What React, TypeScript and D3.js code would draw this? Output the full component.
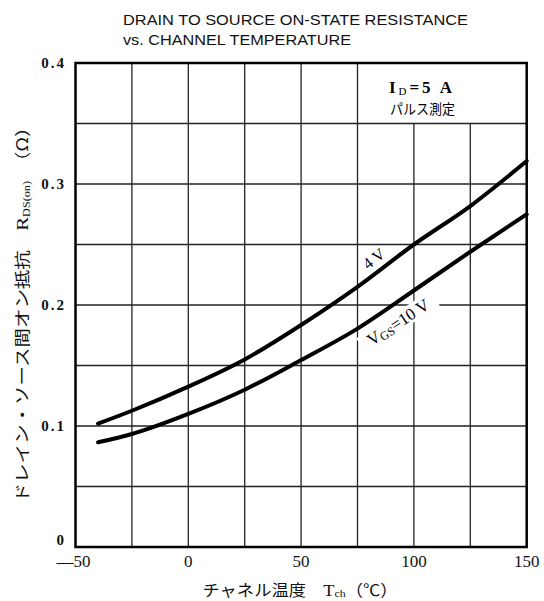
import React from "react";
import * as d3 from "d3";

const temps = [-40, -25, 0, 25, 50, 75, 100, 125, 150];
const r4V = [0.102, 0.1126, 0.1325, 0.155, 0.1835, 0.215, 0.25, 0.2818, 0.319];
const r10V = [0.0865, 0.0934, 0.110, 0.130, 0.1545, 0.1805, 0.212, 0.244, 0.275];
const xTicks = [-50, 0, 50, 100, 150];
const xGrid = [-25, 0, 25, 50, 75, 100, 125];
const yTicks = [0, 0.1, 0.2, 0.3, 0.4];
const yGrid = [0.05, 0.1, 0.15, 0.2, 0.25, 0.3, 0.35];

const W = 544, H = 601;
const L = 75.5, R = 526.7, T = 63, B = 547;

export default function App() {
  const x = d3.scaleLinear().domain([-50, 150]).range([L, R]);
  const y = d3.scaleLinear().domain([0, 0.4]).range([B, T]);
  const line = d3.line<[number, number]>()
    .x(d => x(d[0])).y(d => y(d[1]))
    .curve(d3.curveMonotoneX);
  const d4 = line(temps.map((t, i) => [t, r4V[i]]));
  const d10 = line(temps.map((t, i) => [t, r10V[i]]));
  const serif = "'Liberation Serif', 'DejaVu Serif', serif";
  const sans = "'Liberation Sans', Arial, sans-serif";
  const jp = "'Noto Sans CJK JP', sans-serif";

  const lbl4x = 374, lbl4y = 259;
  const lbl10x = 398, lbl10y = 322;

  return (
    <svg width={W} height={H} style={{ position: "absolute", left: 0, top: 0, background: "#fff" }}>
      <rect x={0} y={0} width={W} height={H} fill="#fff" />
      {/* title */}
      <text x={123} y={25} fontFamily={sans} fontSize={15} textLength={345} lengthAdjust="spacingAndGlyphs" fill="#111">DRAIN TO SOURCE ON-STATE RESISTANCE</text>
      <text x={123} y={45} fontFamily={sans} fontSize={15} textLength={228} lengthAdjust="spacingAndGlyphs" fill="#111">vs. CHANNEL TEMPERATURE</text>

      {/* grid */}
      {xGrid.map(g => (
        <line key={"vx" + g} x1={x(g)} x2={x(g)} y1={B} y2={g >= 100 ? y(0.35) : T} stroke="#222" strokeWidth={1.3} />
      ))}
      {yGrid.map(g => (
        <line key={"hy" + g} x1={L} x2={R} y1={y(g)} y2={y(g)} stroke="#222" strokeWidth={1.3} />
      ))}

      {/* label backgrounds */}
      <g transform={`translate(${lbl10x},${lbl10y}) rotate(-33)`}>
        <rect x={-44} y={-9} width={88} height={18} fill="#fff" />
      </g>

      {/* curves */}
      <path d={d4 || ""} fill="none" stroke="#000" strokeWidth={4} strokeLinecap="round" />
      <path d={d10 || ""} fill="none" stroke="#000" strokeWidth={4} strokeLinecap="round" />

      {/* frame */}
      <rect x={L} y={T} width={R - L} height={B - T} fill="none" stroke="#000" strokeWidth={2.5} />

      {/* curve labels */}
      <g transform={`translate(${lbl4x},${lbl4y}) rotate(-38)`}>
        <text x={0} y={5} textAnchor="middle" fontFamily={serif} fontSize={16} fill="#000">4 V</text>
      </g>
      <g transform={`translate(${lbl10x},${lbl10y}) rotate(-33)`}>
        <text x={0} y={6} textAnchor="middle" fontFamily={serif} fontSize={17} fill="#000">
          V<tspan fontSize={12} dy={2}>GS</tspan><tspan dy={-2}>=10 V</tspan>
        </text>
      </g>

      {/* annotation */}
      <text x={389} y={93} fontFamily={serif} fontSize={17} fontWeight="bold" fill="#000" textLength={63} lengthAdjust="spacing">
        I<tspan fontSize={11} dy={2} fontWeight="normal">D</tspan><tspan dy={-2}>=5 A</tspan>
      </text>
      <text x={390} y={114} fontFamily={jp} fontSize={14} fill="#000" textLength={65} lengthAdjust="spacingAndGlyphs">パルス測定</text>

      {/* y ticks */}
      {yTicks.map(t => (
        <text key={"yt" + t} x={66} y={t === 0 ? 545 : y(t) + 5} textAnchor="end" fontFamily={serif} fontSize={15} fontWeight="bold" letterSpacing={2} fill="#111">
          {t === 0 ? "0" : t.toFixed(1)}
        </text>
      ))}
      {/* x ticks */}
      {xTicks.map(t => (
        <text key={"xt" + t} x={x(t) + (t < 0 ? -2 : 0)} y={567} textAnchor="middle" fontFamily={serif} fontSize={17} fill="#111">
          {t < 0 ? "—" + Math.abs(t) : String(t)}
        </text>
      ))}

      {/* x label */}
      <text x={300} y={596} textAnchor="middle" fontFamily={jp} fontSize={16} fill="#111" textLength={195} lengthAdjust="spacingAndGlyphs">
        チャネル温度　<tspan fontFamily={serif} fontSize={17}>T</tspan><tspan fontFamily={serif} fontSize={11} dy={1}>ch</tspan><tspan dy={-1}>（℃）</tspan>
      </text>

      {/* y label */}
      <g transform={`translate(28,310) rotate(-90)`}>
        <text x={0} y={0} textAnchor="middle" fontFamily={jp} fontSize={16} fill="#111" textLength={385} lengthAdjust="spacingAndGlyphs">
          ドレイン・ソース間オン抵抗　<tspan fontFamily={serif} fontSize={17}>R</tspan><tspan fontFamily={serif} fontSize={10} dy={2}>DS(on)</tspan><tspan dy={-2}>　（Ω）</tspan>
        </text>
      </g>
    </svg>
  );
}
